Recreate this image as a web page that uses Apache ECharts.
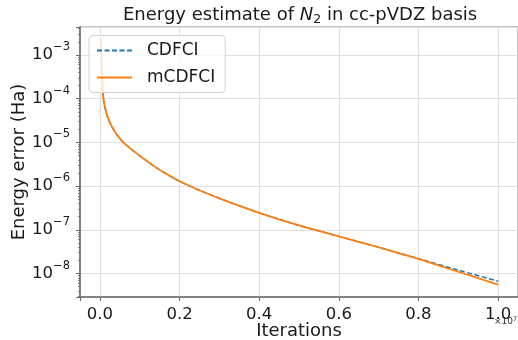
<!DOCTYPE html>
<html><head><meta charset="utf-8">
<script src="https://cdn.jsdelivr.net/npm/echarts@6/dist/echarts.min.js"></script>
<style>html,body{margin:0;padding:0;background:#fff}#c{width:518px;height:340px}</style>
</head><body><div id="c"></div>
<script>
// Iteration counts (x) and energy errors in Ha (y)
const iterations = [2e4, 3e4, 4e4, 5e4, 6e4, 7e4, 8.5e4, 1.2e5, 1.6e5, 2.1e5, 2.8e5, 3.8e5, 4.8e5, 5.9e5, 8e5, 1.09e6, 1.35e6, 1.6e6, 2.0e6, 2.5e6, 3.1e6, 4.0e6, 5.0e6, 6.0e6, 7.0e6, 7.5e6, 8.0e6, 9.0e6, 1.0e7];
const cdfciError  = [2.4e-3, 1.2e-3, 6.5e-4, 3.8e-4, 2.5e-4, 1.7e-4, 1.05e-4, 6.8e-5, 4.8e-5, 3.5e-5, 2.5e-5, 1.74e-5, 1.3e-5, 1.0e-5, 6.85e-6, 4.3e-6, 2.91e-6, 2.08e-6, 1.29e-6, 8.05e-7, 4.85e-7, 2.45e-7, 1.26e-7, 7.1e-8, 4.0e-8, 2.95e-8, 2.2e-8, 1.2e-8, 6.7e-9];
const mcdfciError = [2.4e-3, 1.2e-3, 6.5e-4, 3.8e-4, 2.5e-4, 1.7e-4, 1.05e-4, 6.8e-5, 4.8e-5, 3.5e-5, 2.5e-5, 1.74e-5, 1.3e-5, 1.0e-5, 6.85e-6, 4.3e-6, 2.91e-6, 2.08e-6, 1.29e-6, 8.05e-7, 4.85e-7, 2.45e-7, 1.26e-7, 7.1e-8, 4.0e-8, 2.93e-8, 2.16e-8, 1.1e-8, 5.6e-9];
const seriesNames = ['CDFCI', 'mCDFCI'];
const xTickLabels = ['0.0', '0.2', '0.4', '0.6', '0.8', '1.0'];
const xTickValues = [0, 2e6, 4e6, 6e6, 8e6, 1e7];
const xScaleText = '×10';
const xScaleExp = '7';

const FONT = 'DejaVu Sans';
const AXIS_COLOR = '#6b6b6b';
const GRID_COLOR = '#e0e0e0';

const chart = echarts.init(document.getElementById('c'), null, {renderer: 'canvas'});

function xLabel(v) {
  const i = xTickValues.findIndex(t => Math.abs(t - v) < 1);
  return i >= 0 ? xTickLabels[i] : '';
}
function yLabel(v) {
  const e = Math.log10(v);
  const r = Math.round(e);
  if (Math.abs(e - r) > 1e-6) return '';
  return '{b|10}{e|' + (r < 0 ? '\u2212' + (-r) : r) + '}';
}

chart.setOption({
  animation: false,
  backgroundColor: '#fff',
  textStyle: {fontFamily: FONT},
  title: {
    text: '{a|Energy estimate of }{i|N}{s|2}{a| in cc-pVDZ basis}',
    left: 123, top: 4, padding: 0,
    textStyle: {
      fontWeight: 'normal',
      rich: {
        a: {fontFamily: FONT, fontSize: 18, fontWeight: 'normal', color: '#1a1a1a', lineHeight: 22},
        i: {fontFamily: FONT, fontSize: 18, fontWeight: 'normal', fontStyle: 'italic', color: '#1a1a1a', lineHeight: 22},
        s: {fontFamily: FONT, fontSize: 12.5, fontWeight: 'normal', color: '#1a1a1a', lineHeight: 12, verticalAlign: 'bottom'}
      }
    }
  },
  legend: {
    show: true,
    orient: 'vertical',
    left: 89, top: 35.5,
    padding: [5, 10, 5, 7],
    itemWidth: 35, itemHeight: 14, itemGap: 7,
    backgroundColor: 'rgba(255,255,255,0.8)',
    borderColor: '#d4d4d4', borderWidth: 1, borderRadius: 4,
    itemStyle: {opacity: 0},
    textStyle: {fontFamily: FONT, fontSize: 17, color: '#1a1a1a', padding: [0, 0, 0, 10], lineHeight: 20},
    data: seriesNames
  },
  grid: {left: 80, top: 27, right: 0, bottom: 43, show: true, borderColor: '#8a8a8a', borderWidth: 1, outerBoundsMode: 'none', containLabel: false},
  xAxis: {
    type: 'value',
    min: -5e5, max: 1.05e7,
    splitNumber: 5,
    name: 'Iterations', nameLocation: 'middle', nameGap: 25, nameMoveOverlap: false,
    nameTextStyle: {fontFamily: FONT, fontSize: 18, color: '#1a1a1a'},
    axisLine: {show: true, onZero: false, lineStyle: {color: AXIS_COLOR, width: 1.6}},
    axisTick: {show: true, length: 4, lineStyle: {color: AXIS_COLOR, width: 1}},
    axisLabel: {fontFamily: FONT, fontSize: 16.5, color: '#1a1a1a', margin: 9, formatter: xLabel, showMinLabel: true, showMaxLabel: true},
    splitLine: {show: true, lineStyle: {color: GRID_COLOR, width: 1.2}}
  },
  yAxis: {
    type: 'log', logBase: 10,
    min: 2.91e-9, max: 4.375e-3,
    name: 'Energy error (Ha)', nameLocation: 'middle', nameGap: 52, nameMoveOverlap: false,
    nameTextStyle: {fontFamily: FONT, fontSize: 18, color: '#1a1a1a'},
    axisLine: {show: true, onZero: false, lineStyle: {color: AXIS_COLOR, width: 1.6}},
    axisTick: {show: true, length: 4, lineStyle: {color: AXIS_COLOR, width: 1}},
    minorTick: {show: true, splitNumber: 9, length: 2, lineStyle: {color: AXIS_COLOR, width: 0.8}},
    axisLabel: {
      margin: 10, formatter: yLabel,
      rich: {
        b: {fontFamily: FONT, fontSize: 16.5, color: '#1a1a1a', lineHeight: 28},
        e: {fontFamily: FONT, fontSize: 11.5, color: '#1a1a1a', lineHeight: 12, verticalAlign: 'top'}
      }
    },
    splitLine: {show: true, lineStyle: {color: GRID_COLOR, width: 1.2}}
  },
  graphic: [{
    type: 'text', left: 494, top: 316,
    style: {
      text: '{b|' + xScaleText + '}{e|' + xScaleExp + '}',
      rich: {
        b: {fontFamily: FONT, fontSize: 9, fill: '#333', lineHeight: 12},
        e: {fontFamily: FONT, fontSize: 6.5, fill: '#333', lineHeight: 7, verticalAlign: 'top'}
      }
    }
  }],
  series: [
    {
      name: seriesNames[0], type: 'line', symbol: 'none', z: 2,
      data: iterations.map((x, i) => [x, cdfciError[i]]),
      smooth: 0.2,
      lineStyle: {color: '#1f77b4', width: 1.5, type: [5, 2.5]},
      itemStyle: {color: '#1f77b4'}
    },
    {
      name: seriesNames[1], type: 'line', symbol: 'none', z: 3,
      data: iterations.map((x, i) => [x, mcdfciError[i]]),
      smooth: 0.2,
      lineStyle: {color: '#ff7f0e', width: 1.8},
      itemStyle: {color: '#ff7f0e'}
    }
  ]
});
</script>
</body></html>
